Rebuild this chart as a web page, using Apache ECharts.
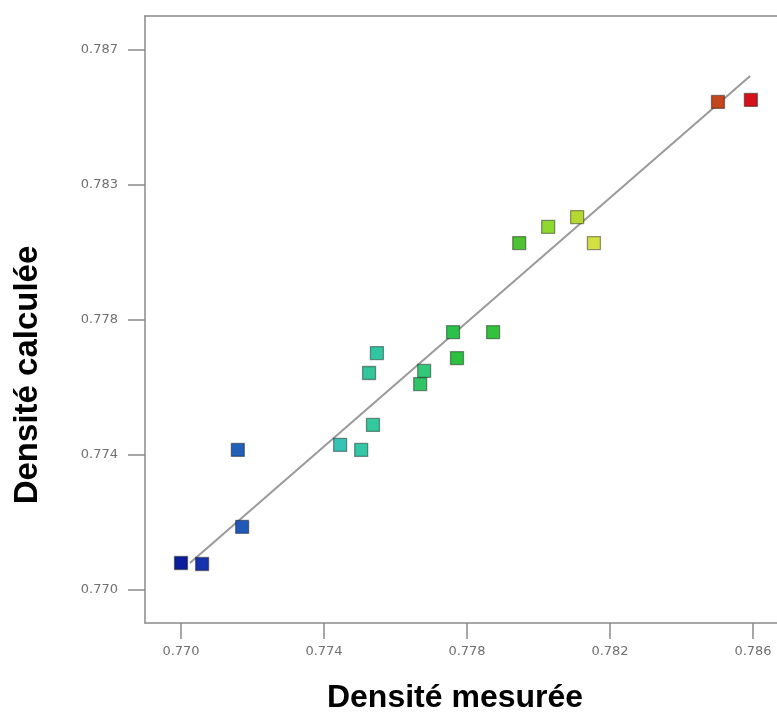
<!DOCTYPE html>
<html>
<head>
<meta charset="utf-8">
<script src="https://cdn.jsdelivr.net/npm/echarts@6/dist/echarts.min.js"></script>
<style>
  html, body { margin: 0; padding: 0; background: #fff; }
  #chart { width: 777px; height: 724px; }
</style>
</head>
<body>
<div id="chart"></div>
<script>
var measured = [0.77000, 0.77059, 0.77171, 0.77159, 0.77445, 0.77504, 0.77537, 0.77548, 0.77526, 0.77680,
                0.77669, 0.77761, 0.77772, 0.77873, 0.77946, 0.78027, 0.78108, 0.78155, 0.78502, 0.78594];
var calculated = [0.77080, 0.77077, 0.77187, 0.77415, 0.77430, 0.77415, 0.77489, 0.77702, 0.77643, 0.77649,
                  0.77610, 0.77764, 0.77687, 0.77764, 0.78028, 0.78076, 0.78105, 0.78028, 0.78446, 0.78452];
var pointColors = ['#0b1d9c', '#1733ab', '#2159b9', '#2160b8', '#36c2b4', '#33c7a8', '#33c89e', '#31c6a2', '#31c69b', '#33c77a',
                   '#2fc566', '#2cc14a', '#2bc040', '#33c23c', '#4fc232', '#8fd832', '#b5d930', '#d2e045', '#c3461f', '#d5121a'];
var fitLine = [[0.77025, 0.77080], [0.78592, 0.78523]];
var xTicks = [0.770, 0.774, 0.778, 0.782, 0.786];
var xTickLabels = ['0.770', '0.774', '0.778', '0.782', '0.786'];
var yTicks = [0.770, 0.774, 0.778, 0.782, 0.786];
var yTickLabels = ['0.770', '0.774', '0.778', '0.783', '0.787'];

var chart = echarts.init(document.getElementById('chart'));

var points = measured.map(function (m, i) {
    return {
        value: [m, calculated[i]],
        itemStyle: { color: pointColors[i] }
    };
});

function tickLabel(ticks, labels) {
    return function (v) {
        for (var i = 0; i < ticks.length; i++) {
            if (Math.abs(ticks[i] - v) < 1e-6) return labels[i];
        }
        return '';
    };
}

var axisColor = '#8a8a8a';

var option = {
    animation: false,
    backgroundColor: '#fff',
    grid: { left: 145, right: 0, top: 16, bottom: 101 },
    xAxis: [
        {
            type: 'value',
            min: 0.768993, max: 0.786671,
            splitLine: { show: false },
            axisLine: { show: true, onZero: false, lineStyle: { color: axisColor, width: 1.5 } },
            axisTick: { show: true, length: 16, customValues: xTicks, lineStyle: { color: axisColor, width: 1.5 } },
            axisLabel: {
                customValues: xTicks, formatter: tickLabel(xTicks, xTickLabels),
                margin: 22, color: '#707070', fontFamily: 'DejaVu Sans', fontSize: 13
            }
        },
        {
            // top frame line only
            type: 'value', position: 'top',
            min: 0.768993, max: 0.786671,
            splitLine: { show: false },
            axisLine: { show: true, onZero: false, lineStyle: { color: axisColor, width: 1.5 } },
            axisTick: { show: false },
            axisLabel: { show: false }
        }
    ],
    yAxis: {
        type: 'value',
        min: 0.769022, max: 0.787007,
        splitLine: { show: false },
        axisLine: { show: true, onZero: false, lineStyle: { color: axisColor, width: 1.5 } },
        axisTick: { show: true, length: 17, customValues: yTicks, lineStyle: { color: axisColor, width: 1.5 } },
        axisLabel: {
            customValues: yTicks, formatter: tickLabel(yTicks, yTickLabels),
            margin: 27, color: '#707070', fontFamily: 'DejaVu Sans', fontSize: 13
        }
    },
    graphic: [
        {
            type: 'text', x: 455, y: 698,
            style: {
                text: 'Densité mesurée', fill: '#000', align: 'center', verticalAlign: 'middle',
                font: 'bold 32px "Liberation Sans", Arial, sans-serif'
            }
        },
        {
            type: 'text', x: 28, y: 375, rotation: Math.PI / 2,
            style: {
                text: 'Densité calculée', fill: '#000', align: 'center', verticalAlign: 'middle',
                font: 'bold 33px "Liberation Sans", Arial, sans-serif'
            }
        }
    ],
    series: [
        {
            type: 'line',
            data: fitLine,
            symbol: 'none',
            lineStyle: { color: '#9a9a9a', width: 2 },
            z: 1
        },
        {
            type: 'scatter',
            data: points,
            symbol: 'rect',
            symbolSize: 13,
            itemStyle: { borderColor: 'rgba(0,0,0,0.4)', borderWidth: 1.3, opacity: 1 },
            z: 2
        }
    ]
};

chart.setOption(option);
</script>
</body>
</html>
